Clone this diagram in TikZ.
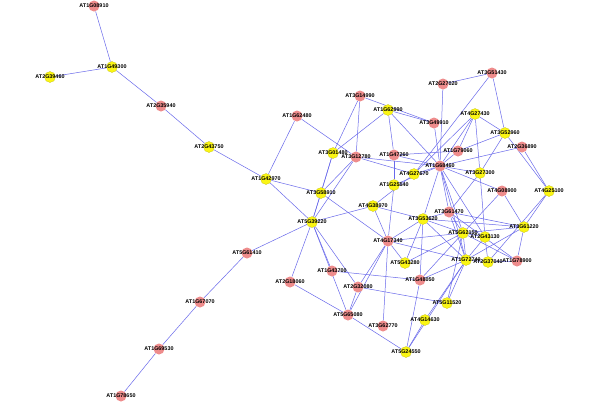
\documentclass[tikz,border=0pt]{standalone}
\usepackage{fontspec}
\setmainfont{Liberation Sans}
\usetikzlibrary{backgrounds}
\definecolor{pinkc}{RGB}{238,140,140}
\definecolor{yelc}{RGB}{250,245,20}
\definecolor{edgec}{RGB}{105,105,235}
\tikzset{
  gene/.style={circle, minimum size=11pt, inner sep=0pt},
  pk/.style={gene, fill=pinkc},
  yl/.style={gene, fill=yelc, draw=yelc!75!black, line width=0.2pt},
  lab/.style={font=\fontsize{5.4}{5.4}\selectfont\bfseries, inner sep=0pt, text=black},
  edge/.style={draw=edgec, line width=0.5pt}
}
\begin{document}
\begin{tikzpicture}[x=1pt,y=-1pt]
\useasboundingbox (0,0) rectangle (600,402);
\newcommand{\gnode}[5]{\node[#1, label={[lab]center:#5}] (#2) at (#3,#4) {};}
\gnode{pk}{n08910}{94}{6}{AT1G08910}
\gnode{yl}{n49300}{112}{67}{AT1G49300}
\gnode{yl}{n39460}{50}{77}{AT2G39460}
\gnode{pk}{n35940}{161}{106}{AT2G35940}
\gnode{yl}{n43750}{209}{147}{AT2G43750}
\gnode{yl}{n42970}{266}{179}{AT1G42970}
\gnode{pk}{n62480}{297}{116}{AT1G62480}
\gnode{pk}{n14990}{360}{96}{AT3G14990}
\gnode{yl}{n62990}{388}{110}{AT1G62990}
\gnode{pk}{n27020}{443}{84}{AT2G27020}
\gnode{pk}{n51430}{492}{73}{AT3G51430}
\gnode{pk}{n49910}{434}{123}{AT3G49910}
\gnode{yl}{n27430}{475}{114}{AT4G27430}
\gnode{yl}{n52960}{505}{133}{AT3G52960}
\gnode{pk}{n36890}{522}{147}{AT2G36890}
\gnode{yl}{n01480}{333}{153}{AT3G01480}
\gnode{pk}{n12780}{356}{157}{AT3G12780}
\gnode{pk}{n47260}{394}{155}{AT1G47260}
\gnode{pk}{n79060}{458}{151}{AT1G79060}
\gnode{pk}{n68460}{440}{166}{AT1G68460}
\gnode{yl}{n27670}{414}{174}{AT4G27670}
\gnode{yl}{n27300}{480}{173}{AT3G27300}
\gnode{yl}{n25540}{394}{185}{AT1G25540}
\gnode{pk}{n08900}{502}{191}{AT4G08900}
\gnode{yl}{n25100}{549}{191}{AT4G25100}
\gnode{yl}{n58910}{321}{193}{AT3G58910}
\gnode{yl}{n38970}{373}{206}{AT4G38970}
\gnode{yl}{n39220}{312}{222}{AT5G39220}
\gnode{yl}{n53620}{423}{219}{AT3G53620}
\gnode{pk}{n61470}{449}{212}{AT3G61470}
\gnode{yl}{n61220}{524}{227}{AT3G61220}
\gnode{yl}{n62150}{463}{233}{AT5G62150}
\gnode{yl}{n43130}{485}{237}{AT2G43130}
\gnode{pk}{n17340}{388}{241}{AT4G17340}
\gnode{pk}{n61410}{247}{253}{AT5G61410}
\gnode{yl}{n72740}{466}{260}{AT1G72740}
\gnode{yl}{n37040}{488}{262}{AT2G37040}
\gnode{pk}{n78900}{517}{261}{AT1G78900}
\gnode{yl}{n43280}{405}{263}{AT5G43280}
\gnode{pk}{n43700}{332}{271}{AT1G43700}
\gnode{pk}{n48050}{420}{280}{AT1G48050}
\gnode{pk}{n18060}{290}{282}{AT2G18060}
\gnode{pk}{n32080}{358}{287}{AT2G32080}
\gnode{pk}{n67070}{200}{302}{AT1G67070}
\gnode{yl}{n11520}{447}{303}{AT5G11520}
\gnode{pk}{n65080}{348}{315}{AT5G65080}
\gnode{yl}{n14630}{425}{320}{AT4G14630}
\gnode{pk}{n62770}{383}{326}{AT3G62770}
\gnode{pk}{n69530}{159}{349}{AT1G69530}
\gnode{yl}{n24550}{406}{352}{AT5G24550}
\gnode{pk}{n78650}{121}{396}{AT1G78650}
\begin{pgfonlayer}{background}
\fill[white] (0,0) rectangle (600,402);
\foreach \a/\b in {n08910/n49300, n39460/n49300, n49300/n35940, n35940/n43750,
  n43750/n42970, n62480/n42970, n42970/n58910, n42970/n39220, n62480/n12780,
  n39220/n61410, n61410/n67070, n67070/n69530, n69530/n78650, n18060/n39220,
  n18060/n65080, n65080/n24550,
  n14990/n01480, n14990/n12780, n14990/n49910, n62990/n49910, n62990/n01480,
  n62990/n47260, n62990/n68460, n27020/n51430, n27020/n68460, n51430/n27670,
  n51430/n52960, n49910/n68460, n01480/n58910, n01480/n39220, n12780/n58910,
  n12780/n39220, n12780/n68460, n12780/n27670, n47260/n68460, n47260/n25540,
  n47260/n79060,
  n27430/n52960, n27430/n27300, n27430/n68460, n27430/n79060, n27430/n27670,
  n52960/n79060, n52960/n27300, n52960/n25100, n36890/n25100, n36890/n68460,
  n79060/n68460, n68460/n27300, n68460/n08900, n68460/n27670, n68460/n25540,
  n68460/n61470, n68460/n62150, n68460/n72740, n68460/n53620, n68460/n43130,
  n27300/n61470, n27300/n43130, n08900/n62150, n08900/n61220, n25100/n61220,
  n25100/n37040, n61220/n78900, n61220/n61470, n61220/n62150, n61220/n72740,
  n61220/n53620, n61470/n78900, n61470/n62150, n61470/n72740, n61470/n53620,
  n62150/n43130, n62150/n72740, n62150/n78900, n62150/n17340, n62150/n53620,
  n43130/n72740, n43130/n37040, n72740/n37040, n72740/n11520, n72740/n14630,
  n72740/n48050, n72740/n17340, n37040/n78900, n53620/n43280, n53620/n48050,
  n53620/n17340, n53620/n38970, n53620/n72740, n17340/n43280, n17340/n32080,
  n17340/n62770, n17340/n38970, n25540/n17340, n17340/n58910, n17340/n65080,
  n38970/n39220, n38970/n27670, n39220/n58910, n39220/n43700, n39220/n65080,
  n39220/n32080, n43280/n62150, n48050/n43700, n48050/n24550, n48050/n62150,
  n11520/n62150, n32080/n11520, n32080/n65080, n14630/n24550, n24550/n72740}
  \draw[edge] (\a) -- (\b);
\end{pgfonlayer}
\end{tikzpicture}
\end{document}
